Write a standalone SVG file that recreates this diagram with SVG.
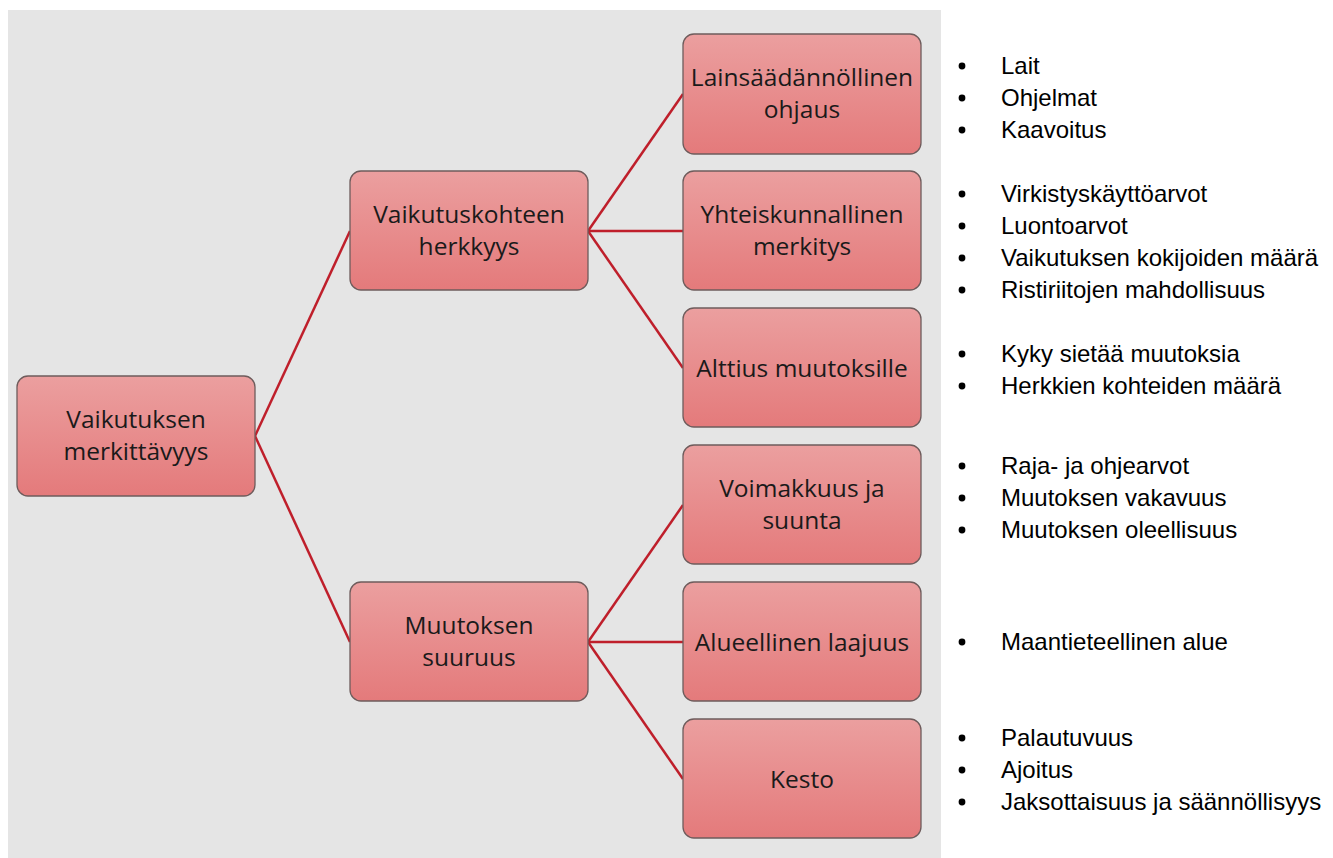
<svg xmlns="http://www.w3.org/2000/svg" width="1333" height="858" viewBox="0 0 1333 858">
<defs>
<linearGradient id="g" x1="0" y1="0" x2="0" y2="1">
<stop offset="0" stop-color="#eb9f9f"/>
<stop offset="1" stop-color="#e47a7b"/>
</linearGradient>
<style>
.box{fill:url(#g);stroke:#6e5c5c;stroke-width:1.3}
.t{font-family:"Open Sans","Noto Sans",sans-serif;font-size:24.5px;fill:#1a1a1a;text-anchor:middle}
.b{font-family:"Liberation Sans",Arial,sans-serif;font-size:24px;fill:#000}
.c{stroke:#bf1f2b;stroke-width:2.5;fill:none}
</style>
</defs>
<rect x="0" y="0" width="1333" height="858" fill="#fff"/>
<rect x="8" y="10" width="933" height="848" fill="#e5e5e5"/>
<g id="connectors">
<line class="c" x1="255" y1="436" x2="350" y2="231"/>
<line class="c" x1="255" y1="436" x2="350" y2="642"/>
<line class="c" x1="588" y1="231" x2="683" y2="94"/>
<line class="c" x1="588" y1="231" x2="683" y2="231"/>
<line class="c" x1="588" y1="231" x2="683" y2="368"/>
<line class="c" x1="588" y1="642" x2="683" y2="505"/>
<line class="c" x1="588" y1="642" x2="683" y2="642"/>
<line class="c" x1="588" y1="642" x2="683" y2="779"/>
</g>
<g id="root">
<rect class="box" x="17" y="376" width="238" height="120" rx="11"/>
<text class="t" x="136" y="428">Vaikutuksen</text>
<text class="t" x="136" y="460">merkittävyys</text>
</g>
<g id="mid1">
<rect class="box" x="350" y="171" width="238" height="119" rx="11"/>
<text class="t" x="469" y="223">Vaikutuskohteen</text>
<text class="t" x="469" y="255">herkkyys</text>
</g>
<g id="mid2">
<rect class="box" x="350" y="582" width="238" height="119" rx="11"/>
<text class="t" x="469" y="634">Muutoksen</text>
<text class="t" x="469" y="666">suuruus</text>
</g>
<g id="leaf1">
<rect class="box" x="683" y="34" width="238" height="120" rx="11"/>
<text class="t" x="802" y="86">Lainsäädännöllinen</text>
<text class="t" x="802" y="118">ohjaus</text>
</g>
<g id="leaf2">
<rect class="box" x="683" y="171" width="238" height="119" rx="11"/>
<text class="t" x="802" y="223">Yhteiskunnallinen</text>
<text class="t" x="802" y="255">merkitys</text>
</g>
<g id="leaf3">
<rect class="box" x="683" y="308" width="238" height="119" rx="11"/>
<text class="t" x="802" y="377">Alttius muutoksille</text>
</g>
<g id="leaf4">
<rect class="box" x="683" y="445" width="238" height="119" rx="11"/>
<text class="t" x="802" y="497">Voimakkuus ja</text>
<text class="t" x="802" y="529">suunta</text>
</g>
<g id="leaf5">
<rect class="box" x="683" y="582" width="238" height="119" rx="11"/>
<text class="t" x="802" y="651">Alueellinen laajuus</text>
</g>
<g id="leaf6">
<rect class="box" x="683" y="719" width="238" height="119" rx="11"/>
<text class="t" x="802" y="788">Kesto</text>
</g>
<g id="bullets" class="b">
<g fill="#000">
<circle cx="962" cy="66" r="3.4"/><circle cx="962" cy="98" r="3.4"/><circle cx="962" cy="130" r="3.4"/>
<circle cx="962" cy="194" r="3.4"/><circle cx="962" cy="226" r="3.4"/><circle cx="962" cy="258" r="3.4"/><circle cx="962" cy="290" r="3.4"/>
<circle cx="962" cy="354" r="3.4"/><circle cx="962" cy="386" r="3.4"/>
<circle cx="962" cy="466" r="3.4"/><circle cx="962" cy="498" r="3.4"/><circle cx="962" cy="530" r="3.4"/>
<circle cx="962" cy="642" r="3.4"/>
<circle cx="962" cy="738" r="3.4"/><circle cx="962" cy="770" r="3.4"/><circle cx="962" cy="802" r="3.4"/>
</g>
<text x="1001" y="74">Lait</text>
<text x="1001" y="106">Ohjelmat</text>
<text x="1001" y="138">Kaavoitus</text>
<text x="1001" y="202">Virkistyskäyttöarvot</text>
<text x="1001" y="234">Luontoarvot</text>
<text x="1001" y="266">Vaikutuksen kokijoiden määrä</text>
<text x="1001" y="298">Ristiriitojen mahdollisuus</text>
<text x="1001" y="362">Kyky sietää muutoksia</text>
<text x="1001" y="394">Herkkien kohteiden määrä</text>
<text x="1001" y="474">Raja- ja ohjearvot</text>
<text x="1001" y="506">Muutoksen vakavuus</text>
<text x="1001" y="538">Muutoksen oleellisuus</text>
<text x="1001" y="650">Maantieteellinen alue</text>
<text x="1001" y="746">Palautuvuus</text>
<text x="1001" y="778">Ajoitus</text>
<text x="1001" y="810">Jaksottaisuus ja säännöllisyys</text>
</g>
</svg>
